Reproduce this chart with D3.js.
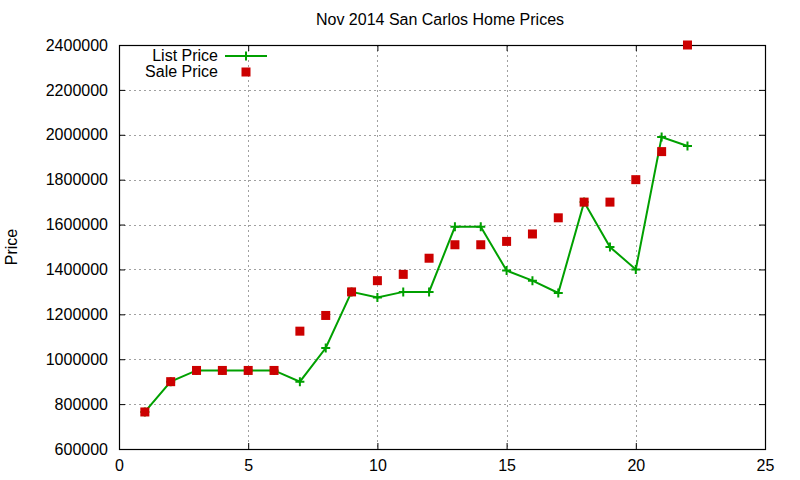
<!DOCTYPE html>
<html>
<head>
<meta charset="utf-8">
<script src="https://cdn.jsdelivr.net/npm/d3@7"></script>
<style>
  body { margin: 0; background: #fff; }
  text { font-family: "Liberation Sans", Arial, sans-serif; fill: #000; }
</style>
</head>
<body>
<script>
// home index, one per sale
const homes = [1, 2, 3, 4, 5, 6, 7, 8, 9, 10, 11, 12, 13, 14, 15, 16, 17, 18, 19, 20, 21, 22];
const listPrices = [765000, 900000, 950000, 950000, 950000, 950000, 900000, 1050000, 1300000, 1275000, 1300000,
    1300000, 1590000, 1590000, 1395000, 1350000, 1295000, 1700000, 1500000, 1400000, 1990000, 1950000];
const salePrices = [765000, 900000, 950000, 950000, 950000, 950000, 1125000, 1195000, 1300000, 1350000, 1378000,
    1450000, 1510000, 1510000, 1525000, 1558000, 1630000, 1700000, 1700000, 1800000, 1925000, 2400000];
const xTicks = [0, 5, 10, 15, 20, 25];
const yTicks = [600000, 800000, 1000000, 1200000, 1400000, 1600000, 1800000, 2000000, 2200000, 2400000];

const SCREEN = { width: 800, height: 480, left: 119, right: 35, top: 45, bottom: 31 };
SCREEN.innerWidth = SCREEN.width - SCREEN.left - SCREEN.right;
SCREEN.innerHeight = SCREEN.height - SCREEN.top - SCREEN.bottom;

const GREEN = '#00a000';
const RED = '#cc0000';
const FONT = 16;

const svg = d3.select('body').append('svg')
    .attr('width', SCREEN.width)
    .attr('height', SCREEN.height);

const x = d3.scaleLinear().domain([0, 25]).range([0, SCREEN.innerWidth]);
const y = d3.scaleLinear().domain([600000, 2400000]).range([SCREEN.innerHeight, 0]);

const canvas = svg.append('g')
    .attr('transform', `translate(${SCREEN.left},${SCREEN.top})`);

// grid
const grid = canvas.append('g').attr('stroke', '#a0a0a0').attr('stroke-width', 1).attr('stroke-dasharray', '2,3');
grid.selectAll('.gx').data(xTicks.slice(1, -1)).join('line')
    .attr('x1', d => Math.round(x(d)) + 0.5).attr('x2', d => Math.round(x(d)) + 0.5)
    .attr('y1', 0).attr('y2', SCREEN.innerHeight);
grid.selectAll('.gy').data(yTicks.slice(1, -1)).join('line')
    .attr('y1', d => Math.round(y(d)) + 0.5).attr('y2', d => Math.round(y(d)) + 0.5)
    .attr('x1', 0).attr('x2', SCREEN.innerWidth);

// axes with inward ticks, mirrored
const styleAxis = g => {
    g.select('.domain').remove();
    g.selectAll('.tick line').attr('stroke', '#000').attr('stroke-width', 1);
    g.selectAll('.tick text').style('font-size', FONT + 'px').style('font-family', '"Liberation Sans", Arial, sans-serif');
};
canvas.append('g').attr('transform', `translate(0,${SCREEN.innerHeight})`)
    .call(d3.axisBottom(x).tickValues(xTicks).tickSize(-6).tickPadding(11).tickFormat(d3.format('d')))
    .call(styleAxis);
canvas.append('g')
    .call(d3.axisTop(x).tickValues(xTicks).tickSize(-6).tickFormat(''))
    .call(styleAxis);
canvas.append('g')
    .call(d3.axisLeft(y).tickValues(yTicks).tickSize(-6).tickPadding(11).tickFormat(d3.format('d')))
    .call(styleAxis);
canvas.append('g').attr('transform', `translate(${SCREEN.innerWidth},0)`)
    .call(d3.axisRight(y).tickValues(yTicks).tickSize(-6).tickFormat(''))
    .call(styleAxis);

canvas.append('rect')
    .attr('x', 0.5).attr('y', 0.5)
    .attr('width', SCREEN.innerWidth).attr('height', SCREEN.innerHeight)
    .attr('fill', 'none').attr('stroke', '#000').attr('stroke-width', 1.2);

// list price line
const listData = homes.map((h, i) => ({ h, v: listPrices[i] }));
const saleData = homes.map((h, i) => ({ h, v: salePrices[i] }));

canvas.append('path')
    .datum(listData)
    .attr('fill', 'none')
    .attr('stroke', GREEN)
    .attr('stroke-width', 2)
    .attr('d', d3.line().x(d => x(d.h)).y(d => y(d.v)));

const plus = (sel) => sel.attr('d', 'M-4.5,0H4.5M0,-4.5V4.5').attr('stroke', GREEN).attr('stroke-width', 2).attr('fill', 'none');

canvas.selectAll('.plus').data(listData).join('path')
    .attr('transform', d => `translate(${x(d.h)},${y(d.v)})`)
    .call(plus);

// sale squares drawn on top
canvas.selectAll('.sq').data(saleData).join('rect')
    .attr('x', d => x(d.h) - 4.5).attr('y', d => y(d.v) - 4.5)
    .attr('width', 9).attr('height', 9)
    .attr('fill', RED);

// legend
const legend = svg.append('g');
legend.append('text').attr('x', 218).attr('y', 61).attr('text-anchor', 'end')
    .style('font-size', FONT + 'px').text('List Price');
legend.append('line').attr('x1', 225).attr('x2', 267).attr('y1', 56).attr('y2', 56)
    .attr('stroke', GREEN).attr('stroke-width', 2);
legend.append('path').attr('transform', 'translate(246,56)').call(plus);
legend.append('text').attr('x', 218).attr('y', 77).attr('text-anchor', 'end')
    .style('font-size', FONT + 'px').text('Sale Price');
legend.append('rect').attr('x', 241.5).attr('y', 67.5).attr('width', 9).attr('height', 9).attr('fill', RED);

// title and y label
svg.append('text').attr('x', 440).attr('y', 25).attr('text-anchor', 'middle')
    .style('font-size', FONT + 'px').text('Nov 2014 San Carlos Home Prices');
svg.append('text').attr('transform', 'translate(17,247) rotate(-90)').attr('text-anchor', 'middle')
    .style('font-size', FONT + 'px').text('Price');
</script>
</body>
</html>
